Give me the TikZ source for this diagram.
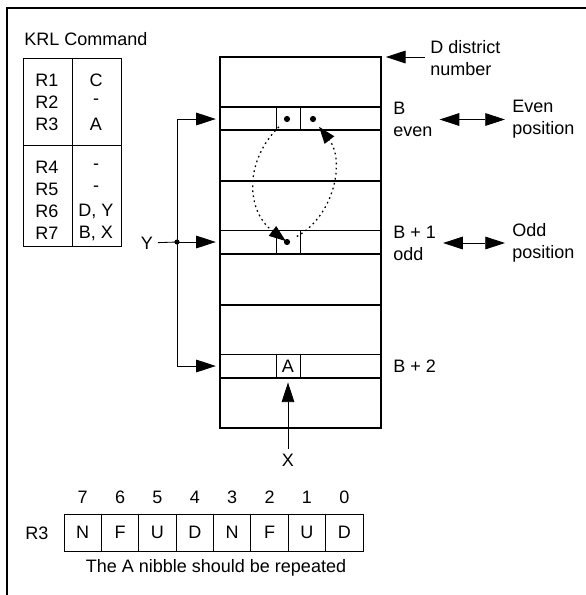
\documentclass[tikz,border=0pt]{standalone}
\usepackage{fontspec}
\setmainfont{Liberation Sans}
\usetikzlibrary{arrows.meta}

\tikzset{
    frame/.style={line width=1.4pt},
    wordline/.style={line width=1pt},
    thinline/.style={line width=0.6pt},
    bigarrow/.style={-{Triangle[length=14pt, width=9pt]}, line width=0.6pt},
    bothways/.style={{Triangle[length=14pt, width=9pt]}-{Triangle[length=14pt, width=9pt]},
        line width=0.6pt, shorten <=5pt, shorten >=5pt},
    swaparc/.style={-{Triangle[length=12pt, width=8.5pt]}, line width=0.9pt,
        dash pattern=on 1.2pt off 2.4pt},
    cell/.style={draw, thinline, minimum width=0.6cm, minimum height=0.59cm, inner sep=0pt},
    bitbox/.style={draw, thinline, minimum width=0.934cm, minimum height=0.925cm, inner sep=0pt},
    txt/.style={inner sep=0pt, align=left},
}

\begin{document}
\begin{tikzpicture}[x=0.025cm, y=-0.025cm, font=\fontsize{12.8}{15.6}\selectfont]

    \useasboundingbox (0,0) rectangle (586,595);
    \draw[frame] (586,8) -- (7,8) -- (7,595);

    % command table
    \node[txt, anchor=west] (krl) at (24,39) {KRL Command};
    \draw[thinline] (23,58) rectangle (121,246);
    \draw[thinline] (23,145) -- (121,145);
    \draw[thinline] (72,58) -- (72,246);
    \foreach \reg/\val [count=\i] in {R1/C, R2/-, R3/A} {
        \node (reg\i) at (47,{58+22*\i}) {\reg};
        \node (val\i) at (96,{58+22*\i}) {\val};
    }
    \foreach \reg/\val [count=\i from 4] in {R4/-, R5/-, R6/{D, Y}, R7/{B, X}} {
        \node (reg\i) at (47,{145+22*(\i-3)}) {\reg};
        \node (val\i) at (96,{145+22*(\i-3)}) {\val};
    }

    % memory
    \node[cell] (cellB) at (288,118.5) {};
    \node[cell] (cellBone) at (288,242) {};
    \node[cell] (cellA) at (288,366) {A};
    \draw[wordline] (220,57) rectangle (381,428);
    \foreach \y in {107,130,181,254,305,378}
        \draw[wordline] (220,\y) -- (381,\y);
    \foreach \y in {230,354}
        \draw[thinline] (220,\y) -- (381,\y);

    \coordinate (memtop) at (381,57);
    \coordinate (rowB) at (220,119);
    \coordinate (rowBone) at (220,242);
    \coordinate (rowBtwo) at (220,366);

    % nibble swap
    \coordinate (evenhi) at (287,119);
    \coordinate (evenlo) at (313,119);
    \coordinate (oddhi) at (287,242);
    \fill (evenhi) circle (2.2pt);
    \fill (evenlo) circle (2.2pt);
    \fill (oddhi) circle (2.2pt);
    \draw[swaparc, shorten <=8pt, shorten >=1pt] (evenhi) .. controls (245,160) and (245,210) .. (oddhi);
    \draw[swaparc, shorten <=8pt, shorten >=7pt] (oddhi) .. controls (335,215) and (345,160) .. (evenlo);

    % Y pointer
    \coordinate (ytop) at (177,119);
    \coordinate (yjoin) at (177,242);
    \coordinate (ybot) at (177,366);
    \node (ylbl) at (147,243) {Y};
    \draw[thinline] (ytop) -- (ybot);
    \draw[thinline] (ylbl) -- (yjoin);
    \draw[bigarrow, shorten >=3pt] (ytop) -- (rowB);
    \draw[bigarrow, shorten >=3pt] (yjoin) -- (rowBone);
    \draw[bigarrow, shorten >=3pt] (ybot) -- (rowBtwo);
    \fill (yjoin) circle (1.8pt);

    % X pointer
    \node (xlbl) at (288,460) {X};
    \draw[bigarrow, shorten >=3pt] (xlbl) -- (cellA);

    % right side labels
    \node[txt, anchor=west] (dlbl) at (430,58) {D district\\number};
    \draw[bigarrow, shorten <=3.5pt, shorten >=3.5pt] (dlbl.west |- memtop) -- (memtop);
    \node[txt, anchor=west] (blbl) at (393,119.5) {B\\even};
    \node[txt, anchor=west] (evenlbl) at (512,119.5) {Even\\position};
    \draw[bothways] (blbl.east) -- (evenlbl.west);
    \node[txt, anchor=west] (bonelbl) at (393,243) {B + 1\\odd};
    \node[txt, anchor=west] (oddlbl) at (512,243) {Odd\\position};
    \draw[bothways] (bonelbl.east) -- (oddlbl.west);
    \node[txt, anchor=west] (btwolbl) at (393,366) {B + 2};

    % register R3
    \node (rthree) at (37,533) {R3};
    \foreach \bit/\ch [count=\i from 0] in {7/N, 6/F, 5/U, 4/D, 3/N, 2/F, 1/U, 0/D} {
        \node[bitbox] (bit\bit) at ({82.7+37.375*\i},532.5) {\ch};
        \node (num\bit) at ({82.7+37.375*\i},497) {\bit};
    }
    \node (note) at (216,568) {The A nibble should be repeated};

\end{tikzpicture}
\end{document}
